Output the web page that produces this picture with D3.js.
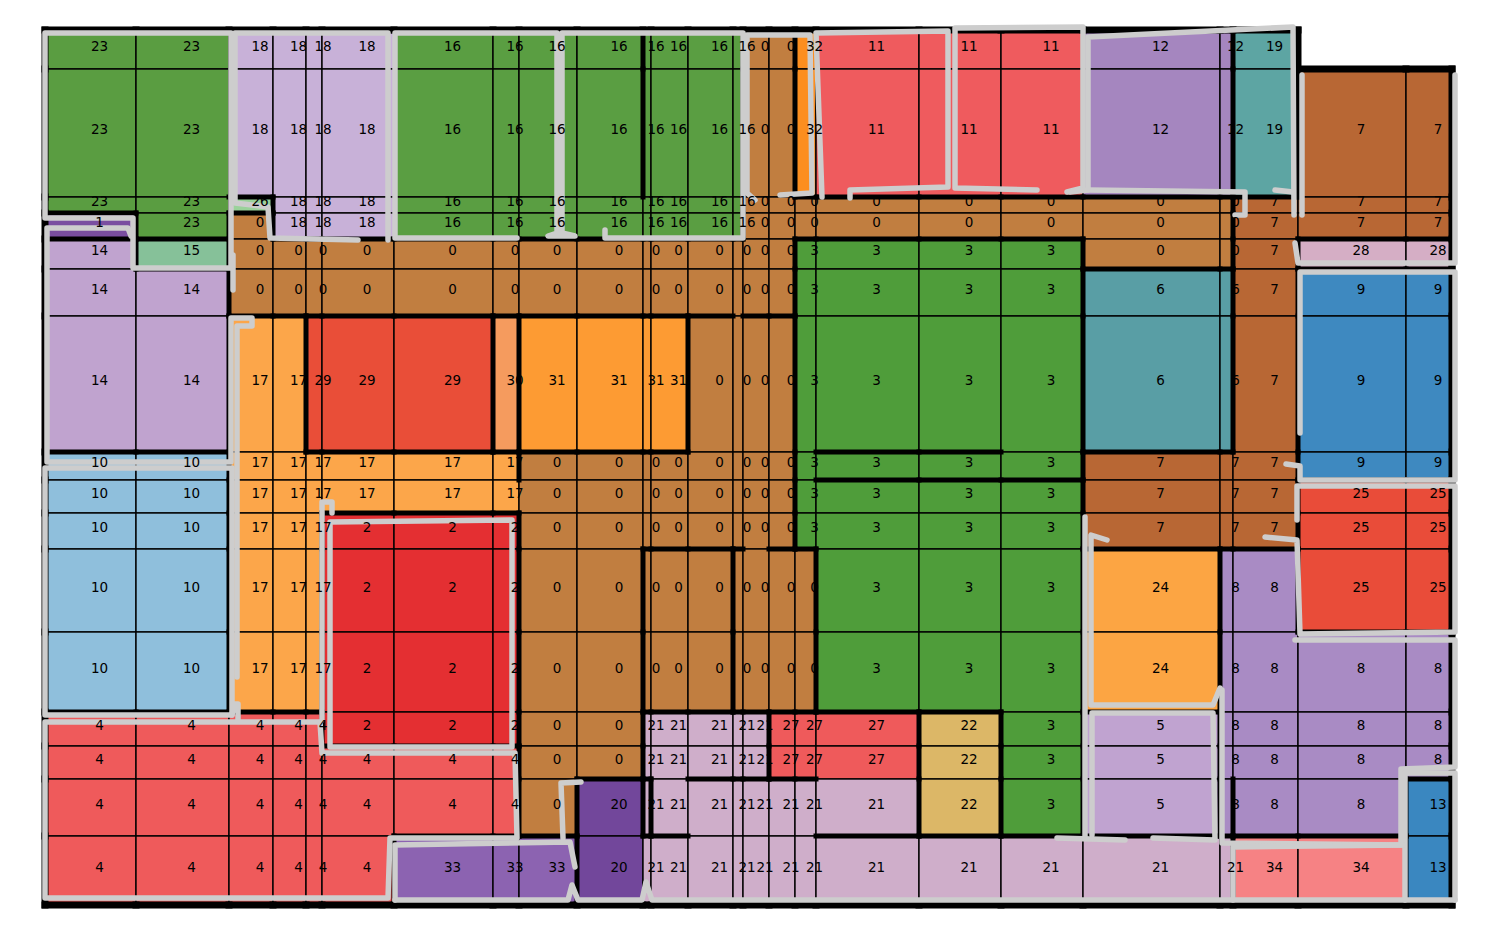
<!DOCTYPE html>
<html><head><meta charset="utf-8">
<script src="https://cdn.jsdelivr.net/npm/d3@7"></script>
<style>body{margin:0;background:#fff}svg{display:block}</style>
</head><body><svg id="chart" width="1499" height="928"></svg>
<script>
// ---- data ----
const colWidths = [91,93,44,33,16,72,99,26,58,66,8,37,45,10,26,26,21,103,82,82,137,13,65,108,46];
const rowHeights = [39,128,16,26,30,47,136,28,33,36,83,80,34,33,57,69];
const row00 = [23,23,18,18,18,18,16,16,16,16,16,16,16,16,0,0,32,11,11,11,12,12,19,null,null];
const row01 = [23,23,18,18,18,18,16,16,16,16,16,16,16,16,0,0,32,11,11,11,12,12,19,7,7];
const row02 = [23,23,26,18,18,18,16,16,16,16,16,16,16,16,0,0,0,0,0,0,0,0,7,7,7];
const row03 = [1,23,0,18,18,18,16,16,16,16,16,16,16,16,0,0,0,0,0,0,0,0,7,7,7];
const row04 = [14,15,0,0,0,0,0,0,0,0,0,0,0,0,0,0,3,3,3,3,0,0,7,28,28];
const row05 = [14,14,0,0,0,0,0,0,0,0,0,0,0,0,0,0,3,3,3,3,6,6,7,9,9];
const row06 = [14,14,17,17,29,29,29,30,31,31,31,31,0,0,0,0,3,3,3,3,6,6,7,9,9];
const row07 = [10,10,17,17,17,17,17,17,0,0,0,0,0,0,0,0,3,3,3,3,7,7,7,9,9];
const row08 = [10,10,17,17,17,17,17,17,0,0,0,0,0,0,0,0,3,3,3,3,7,7,7,25,25];
const row09 = [10,10,17,17,17,2,2,2,0,0,0,0,0,0,0,0,3,3,3,3,7,7,7,25,25];
const row10 = [10,10,17,17,17,2,2,2,0,0,0,0,0,0,0,0,0,3,3,3,24,8,8,25,25];
const row11 = [10,10,17,17,17,2,2,2,0,0,0,0,0,0,0,0,0,3,3,3,24,8,8,8,8];
const row12 = [4,4,4,4,4,2,2,2,0,0,21,21,21,21,21,27,27,27,22,3,5,8,8,8,8];
const row13 = [4,4,4,4,4,4,4,4,0,0,21,21,21,21,21,27,27,27,22,3,5,8,8,8,8];
const row14 = [4,4,4,4,4,4,4,4,0,20,21,21,21,21,21,21,21,21,22,3,5,8,8,8,13];
const row15 = [4,4,4,4,4,4,33,33,33,20,21,21,21,21,21,21,21,21,21,21,21,21,34,34,13];
const cellLabels = [row00,row01,row02,row03,row04,row05,row06,row07,row08,row09,row10,row11,row12,row13,row14,row15];

const labelIds = [0,1,2,3,4,5,6,7,8,9,10,11,12,13,14,15,16,17,18,19,20,21,22,23,24,25,26,27,28,29,30,31,32,33,34];
const labelColors = ["#c17e40","#7a4ea0","#e42f32","#4f9d3a","#ef5a5b","#c0a3d0","#599ea5","#b86734",
  "#a98bc4","#3e89c0","#8fbfdc","#ef5b5e","#a586bf","#3a87c0","#c0a3cf","#86c199","#5a9e42","#fca64a",
  "#c8b1d8","#5da5a3","#72479b","#cfaeca","#dcb767","#5a9d41","#fca543","#e94c39","#9ad29a","#ef5a5b",
  "#d5aec5","#e94e38","#f59b5e","#fd9b33","#fc8e1f","#8c63b1","#f68284"];

// extra thick separators [boundaryIndex, cellIndex]
const extraVertical = [[10,0],[10,1],[10,10],[10,11],[13,10],[13,11],[11,14],[22,14]];
const extraHorizontal = [[6,12],[6,14],[6,15],[7,17],[7,18],[8,17],[8,18],[8,19],
  [10,10],[10,11],[10,12],[10,13],[10,15],[14,10],[14,12],[14,13],[14,14],[15,10],[15,11],[15,17]];
const noVertical = [[8,8],[10,15],[2,0],[2,1],[2,2],[6,0],[6,1],[6,2],[6,3],[20,0],[20,1],[17,0],[17,1]];
const noHorizontal = [[14,17]];

// light outline sketches (chart units)
const outlines = [
 [[0,188],[0,3],[186,3],[186,238],[88,238],[88,188],[0,188]],
 [[86,206],[83,198],[2,198],[2,432],[186,432],[186,288],[207,288],[207,296],[192,296],[192,647]],
 [[188,225],[188,260]],
 [[0,438],[187,438],[187,685],[0,685],[0,438]],
 [[187,685],[189,674],[193,674],[193,691]],
 [[0,692],[275,692],[277,723],[470,723],[472,808],[345,808],[343,868],[0,868],[0,692]],
 [[285,492],[467,490],[467,717],[285,717],[285,492]],
 [[277,690],[277,472],[287,472],[287,483]],
 [[313,210],[225,208],[223,177],[190,173],[190,3],[343,3],[343,210]],
 [[472,208],[350,208],[350,3],[512,3],[512,203],[503,206],[530,206],[517,203],[517,3],[698,3],[698,208],[560,208],[560,200]],
 [[710,170],[702,163],[702,5],[765,5],[767,163],[735,165]],
 [[777,167],[771,3],[903,1],[903,157],[805,160],[805,168]],
 [[992,160],[910,158],[910,-2],[1038,-3],[1038,158],[1022,162]],
 [[1025,162],[1043,160],[1043,7],[1248,-3],[1249,185]],
 [[1043,160],[1200,162],[1200,185],[1190,185]],
 [[1230,160],[1248,162]],
 [[1257,45],[1257,185]],
 [[1250,213],[1253,233],[1410,233],[1410,45]],
 [[1255,403],[1255,242],[1410,242],[1410,450],[1255,450],[1255,436],[1241,434]],
 [[1252,490],[1252,456],[1410,456],[1410,602],[1255,604],[1252,510],[1220,507]],
 [[1177,660],[1177,813],[1356,815],[1356,739],[1410,737],[1410,610],[1250,610]],
 [[1360,870],[1360,743],[1410,743],[1410,870]],
 [[1188,870],[1188,817],[1358,815]],
 [[1062,510],[1046,505],[1046,675],[1168,675],[1175,658]],
 [[1040,487],[1040,808]],
 [[1012,808],[1080,810]],
 [[1047,805],[1047,683],[1168,683],[1170,810],[1108,808]],
 [[350,870],[523,870],[527,855],[533,870],[597,870],[601,852],[607,870],[1410,870]],
 [[350,870],[350,815],[525,812],[530,837]],
 [[518,808],[516,753],[536,752]]
];

// ---- drawing ----
const svg = d3.select("#chart");
const X = [0]; colWidths.forEach(w => X.push(X[X.length-1] + w));
const Y = [0]; rowHeights.forEach(h => Y.push(Y[Y.length-1] + h));
const x = d3.scaleLinear().domain([0, d3.sum(colWidths)]).range([45, 1452]);
const y = d3.scaleLinear().domain([0, d3.sum(rowHeights)]).range([30, 905]);
const color = d3.scaleOrdinal().domain(labelIds).range(labelColors);

const cells = [];
cellLabels.forEach((row, r) => row.forEach((v, c) => { if (v !== null) cells.push({r, c, v}); }));

svg.append("g").selectAll("rect").data(cells).join("rect")
  .attr("x", d => x(X[d.c])).attr("y", d => y(Y[d.r]))
  .attr("width", d => x(X[d.c+1]) - x(X[d.c])).attr("height", d => y(Y[d.r+1]) - y(Y[d.r]))
  .attr("fill", d => color(d.v)).attr("stroke", "#000").attr("stroke-width", 1.4);

const key = (a,b) => a + "," + b;
const noV = new Set(noVertical.map(d => key(d[0], d[1])));
const noH = new Set(noHorizontal.map(d => key(d[0], d[1])));
const nR = rowHeights.length, nC = colWidths.length;
const lab = (r, c) => (r < 0 || c < 0 || r >= nR || c >= nC) ? null : cellLabels[r][c];

const thick = [], outer = [];
for (let r = 0; r < nR; r++) for (let b = 0; b <= nC; b++) {
  const L = lab(r, b-1), R = lab(r, b);
  const seg = {x1: X[b], y1: Y[r], x2: X[b], y2: Y[r+1]};
  if ((L === null) !== (R === null)) outer.push(seg);
  else if (L !== null && L !== R && !noV.has(key(b, r))) thick.push(seg);
}
for (let c = 0; c < nC; c++) for (let b = 0; b <= nR; b++) {
  const T = lab(b-1, c), B = lab(b, c);
  const seg = {x1: X[c], y1: Y[b], x2: X[c+1], y2: Y[b]};
  if ((T === null) !== (B === null)) outer.push(seg);
  else if (T !== null && T !== B && !noH.has(key(b, c))) thick.push(seg);
}
extraVertical.forEach(([b, r]) => thick.push({x1: X[b], y1: Y[r], x2: X[b], y2: Y[r+1]}));
extraHorizontal.forEach(([b, c]) => thick.push({x1: X[c], y1: Y[b], x2: X[c+1], y2: Y[b]}));

svg.append("g").selectAll("line").data(thick).join("line")
  .attr("x1", d => x(d.x1)).attr("y1", d => y(d.y1)).attr("x2", d => x(d.x2)).attr("y2", d => y(d.y2))
  .attr("stroke", "#000").attr("stroke-width", 5).attr("stroke-linecap", "square");

svg.append("g").selectAll("line").data(outer).join("line")
  .attr("x1", d => x(d.x1)).attr("y1", d => y(d.y1)).attr("x2", d => x(d.x2)).attr("y2", d => y(d.y2))
  .attr("stroke", "#000").attr("stroke-width", 7).attr("stroke-linecap", "square");

const line = d3.line().x(d => x(d[0])).y(d => y(d[1]));
svg.append("g").selectAll("path").data(outlines).join("path")
  .attr("d", line).attr("fill", "none").attr("stroke", "#cdcdcd").attr("stroke-width", 5.5)
  .attr("stroke-linejoin", "round").attr("stroke-linecap", "round");

svg.append("g").selectAll("text").data(cells).join("text")
  .attr("x", d => x((X[d.c] + X[d.c+1]) / 2) + 9)
  .attr("y", d => y((Y[d.r] + Y[d.r+1]) / 2) - 4)
  .attr("text-anchor", "middle").attr("dominant-baseline", "central")
  .attr("font-family", "DejaVu Sans, sans-serif").attr("font-size", "13.5px").attr("fill", "#000")
  .text(d => d.v);
</script>
</body></html>
